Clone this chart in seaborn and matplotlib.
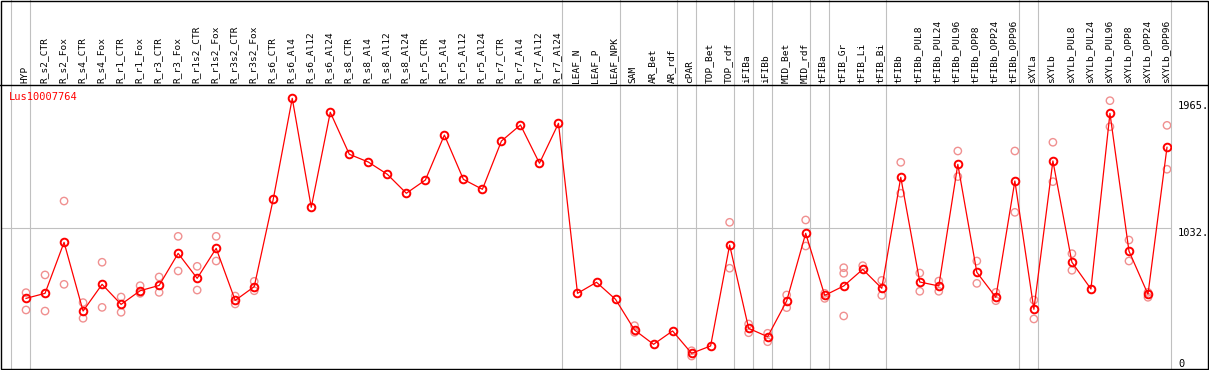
import matplotlib
matplotlib.use("Agg")
import matplotlib.pyplot as plt
from matplotlib.lines import Line2D
from matplotlib.patches import Rectangle
import seaborn as sns
import pandas as pd

# muestras (eje x)
muestras = [
    "HYP", "R_s2_CTR", "R_s2_Fox", "R_s4_CTR", "R_s4_Fox", "R_r1_CTR", "R_r1_Fox",
    "R_r3_CTR", "R_r3_Fox", "R_r1s2_CTR", "R_r1s2_Fox", "R_r3s2_CTR", "R_r3s2_Fox",
    "R_s6_CTR", "R_s6_Al4", "R_s6_Al12", "R_s6_Al24", "R_s8_CTR", "R_s8_Al4",
    "R_s8_Al12", "R_s8_Al24", "R_r5_CTR", "R_r5_Al4", "R_r5_Al12", "R_r5_Al24",
    "R_r7_CTR", "R_r7_Al4", "R_r7_Al12", "R_r7_Al24", "LEAF_N", "LEAF_P", "LEAF_NPK",
    "SAM", "AR_Bet", "AR_rdf", "cPAR", "TOP_Bet", "TOP_rdf", "iFIBa", "iFIBb",
    "MID_Bet", "MID_rdf", "tFIBa", "tFIB_Gr", "tFIB_Li", "tFIB_Bi", "tFIBb",
    "tFIBb_PUL8", "tFIBb_PUL24", "tFIBb_PUL96", "tFIBb_OPP8", "tFIBb_OPP24",
    "tFIBb_OPP96", "sXYLa", "sXYLb", "sXYLb_PUL8", "sXYLb_PUL24", "sXYLb_PUL96",
    "sXYLb_OPP8", "sXYLb_OPP24", "sXYLb_OPP96",
]

# valores medios (linea roja)
medias = [
    518, 555, 929, 425, 621, 474, 574, 613, 848, 665, 885, 503, 604,
    1245, 1985, 1186, 1883, 1575, 1518, 1428, 1289, 1386, 1716, 1391, 1318,
    1672, 1790, 1509, 1802, 555, 636, 511, 286, 181, 279, 115, 169, 909,
    298, 237, 499, 995, 540, 609, 731, 592, 1406, 638, 609, 1501, 709, 526,
    1379, 438, 1526, 783, 587, 1875, 865, 548, 1626,
]

# replicas visibles (circulos claros)
replicas = [
    [560, 433], [690, 425], [1232, 621], [487, 372], [783, 452], [528, 416],
    [611, 555], [675, 562], [973, 719], [753, 579], [973, 792], [535, 477],
    [643, 574], [], [], [], [], [], [], [], [], [], [], [], [], [], [], [], [],
    [], [], [], [318, 269], [], [], [134, 95], [], [1076, 739], [330, 266],
    [262, 200], [543, 450], [1093, 902], [555, 518], [743, 702, 389], [758],
    [650, 540], [1516, 1289], [704, 570], [645, 570], [1599, 1411], [792, 628],
    [562, 501], [1599, 1149], [506, 367], [1663, 1374], [846, 724], [],
    [1968, 1777], [946, 792], [562, 526], [1787, 1465],
]

# separadores de grupos (indice de la primera muestra de cada grupo)
separadores = [0, 1, 29, 32, 35, 36, 38, 39, 40, 42, 43, 46, 53, 54, 61]

gen = "Lus10007764"
marcas_y = [0, 1032, 1965]
etiquetas_y = ["0", "1032.", "1965."]

df_medias = pd.DataFrame({"x": range(len(muestras)), "valor": medias})
filas = []
for i, reps in enumerate(replicas):
    for v in reps:
        filas.append({"x": i, "valor": v})
df_reps = pd.DataFrame(filas)

W, H = 1209, 370
fig = plt.figure(figsize=(W / 100, H / 100), dpi=100)
fig.patch.set_facecolor("white")

# zona del grafico en pixeles
x0, x1, y_top, y_bot = 1, 1171, 85, 369
ax = fig.add_axes([x0 / W, 1 - y_bot / H, (x1 - x0) / W, (y_bot - y_top) / H])
ax.set_facecolor("none")

off = 15 / 19
ax.set_xlim(-off - 10 / 19, 61 - off)
ax.set_ylim(0, 2083)

gris = "#c0c0c0"
for s in separadores:
    ax.axvline(s - off, ymin=0, ymax=y_bot / (y_bot - y_top), color=gris,
               lw=0.8, clip_on=False, zorder=1)
ax.axhline(1032, color=gris, lw=0.8, zorder=1)

sns.scatterplot(data=df_reps, x="x", y="valor", ax=ax, marker="o", s=28,
                facecolor="none", edgecolor="#f09090", linewidth=1.0, zorder=2)
sns.lineplot(data=df_medias, x="x", y="valor", ax=ax, color="#ff0000", lw=0.9,
             marker="o", markersize=5.5, mfc="none", mec="#ff0000", mew=1.4,
             zorder=3)

for sp in ax.spines.values():
    sp.set_visible(False)
ax.set_xticks([])
ax.set_yticks([])
ax.set_xlabel("")
ax.set_ylabel("")

# etiquetas de muestras giradas
for i, nombre in enumerate(muestras):
    ax.text(i - 0.08, 1 + 2 / (y_bot - y_top), nombre, rotation=90, ha="center",
            va="bottom", fontsize=6.8, family="DejaVu Sans Mono",
            transform=ax.get_xaxis_transform(), clip_on=False)

# etiquetas del eje derecho
for v, t in zip(marcas_y, etiquetas_y):
    ax.text(1 + 7 / (x1 - x0), v, t, ha="left", va="bottom" if v == 0 else "top",
            fontsize=7.5, family="DejaVu Sans Mono",
            transform=ax.get_yaxis_transform(), clip_on=False)

ax.text(8 / (x1 - x0), 1 - 12 / (y_bot - y_top), gen, color="#ff0000",
        fontsize=7.5, family="DejaVu Sans Mono", ha="left", va="center",
        transform=ax.transAxes)

# marco
fig.add_artist(Rectangle((1 / W, 1 / H), (W - 2.5) / W, (H - 2) / H, fill=False,
                         edgecolor="black", lw=1.0, transform=fig.transFigure))
fig.add_artist(Line2D([0, 1], [1 - y_top / H, 1 - y_top / H], color="black",
                      lw=1.0, transform=fig.transFigure))

fig.savefig("out.png", dpi=100)
